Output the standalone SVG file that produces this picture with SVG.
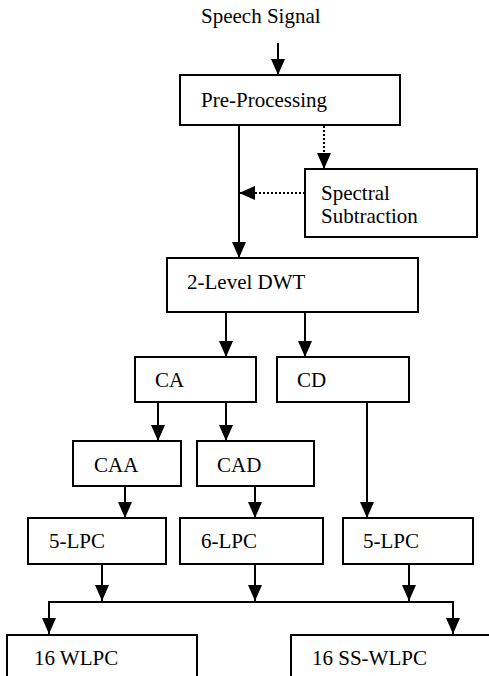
<svg xmlns="http://www.w3.org/2000/svg" width="489" height="676" viewBox="0 0 489 676">
  <style>
    .box { fill: #fff; stroke: #000; stroke-width: 2; }
    text { font-family: "Liberation Serif", "DejaVu Serif", serif; font-size: 21px; fill: #000; }
    .line { fill: none; stroke: #000; stroke-width: 2; }
    .dot { fill: none; stroke: #000; stroke-width: 2; stroke-dasharray: 2 2; }
  </style>
  <defs>
    <marker id="arrow" markerUnits="userSpaceOnUse" markerWidth="16" markerHeight="14" viewBox="0 0 16 14" refX="16" refY="7" orient="auto">
      <polygon points="0,0 16,7 0,14" fill="#000"/>
    </marker>
  </defs>

  <rect width="489" height="676" fill="#fff"/>

  <text x="201" y="23">Speech Signal</text>

  <g id="connectors">
    <line class="line" x1="278" y1="43" x2="278" y2="75" marker-end="url(#arrow)"/>
    <line class="line" x1="239" y1="125" x2="239" y2="258" marker-end="url(#arrow)"/>
    <line class="dot" x1="324" y1="126" x2="324" y2="169" marker-end="url(#arrow)"/>
    <line class="dot" x1="305" y1="193" x2="239" y2="193" marker-end="url(#arrow)"/>
    <line class="line" x1="226" y1="312" x2="226" y2="357" marker-end="url(#arrow)"/>
    <line class="line" x1="305" y1="312" x2="305" y2="357" marker-end="url(#arrow)"/>
    <line class="line" x1="158" y1="402" x2="158" y2="441" marker-end="url(#arrow)"/>
    <line class="line" x1="226" y1="402" x2="226" y2="441" marker-end="url(#arrow)"/>
    <line class="line" x1="125" y1="486" x2="125" y2="518" marker-end="url(#arrow)"/>
    <line class="line" x1="255" y1="486" x2="255" y2="518" marker-end="url(#arrow)"/>
    <line class="line" x1="367" y1="402" x2="367" y2="518" marker-end="url(#arrow)"/>
    <line class="line" x1="102" y1="564" x2="102" y2="601" marker-end="url(#arrow)"/>
    <line class="line" x1="255" y1="564" x2="255" y2="601" marker-end="url(#arrow)"/>
    <line class="line" x1="409" y1="564" x2="409" y2="601" marker-end="url(#arrow)"/>
    <polyline class="line" points="49,634 49,602 453,602 453,634"/>
    <line class="line" x1="49" y1="610" x2="49" y2="634" marker-end="url(#arrow)"/>
    <line class="line" x1="453" y1="610" x2="453" y2="634" marker-end="url(#arrow)"/>
  </g>

  <g id="pre-processing">
    <rect class="box" x="180" y="75" width="220" height="50"/>
    <text x="201" y="107">Pre-Processing</text>
  </g>

  <g id="spectral-subtraction">
    <rect class="box" x="305" y="169" width="172" height="68"/>
    <text x="321" y="200">Spectral</text>
    <text x="321" y="223">Subtraction</text>
  </g>

  <g id="dwt">
    <rect class="box" x="167" y="258" width="251" height="54"/>
    <text x="187" y="289">2-Level DWT</text>
  </g>

  <g id="ca">
    <rect class="box" x="135" y="357" width="121" height="45"/>
    <text x="155" y="387">CA</text>
  </g>

  <g id="cd">
    <rect class="box" x="277" y="357" width="132" height="45"/>
    <text x="297" y="387">CD</text>
  </g>

  <g id="caa">
    <rect class="box" x="73" y="441" width="108" height="45"/>
    <text x="94" y="472">CAA</text>
  </g>

  <g id="cad">
    <rect class="box" x="197" y="441" width="117" height="45"/>
    <text x="217" y="472">CAD</text>
  </g>

  <g id="lpc5-left">
    <rect class="box" x="28" y="518" width="138" height="46"/>
    <text x="49" y="548">5-LPC</text>
  </g>

  <g id="lpc6">
    <rect class="box" x="180" y="518" width="143" height="46"/>
    <text x="201" y="548">6-LPC</text>
  </g>

  <g id="lpc5-right">
    <rect class="box" x="343" y="518" width="130" height="46"/>
    <text x="363" y="548">5-LPC</text>
  </g>

  <g id="wlpc">
    <rect class="box" x="7" y="635" width="190" height="60"/>
    <text x="34" y="665">16 WLPC</text>
  </g>

  <g id="ss-wlpc">
    <rect class="box" x="291" y="635" width="210" height="60"/>
    <text x="312" y="665">16 SS-WLPC</text>
  </g>
</svg>
